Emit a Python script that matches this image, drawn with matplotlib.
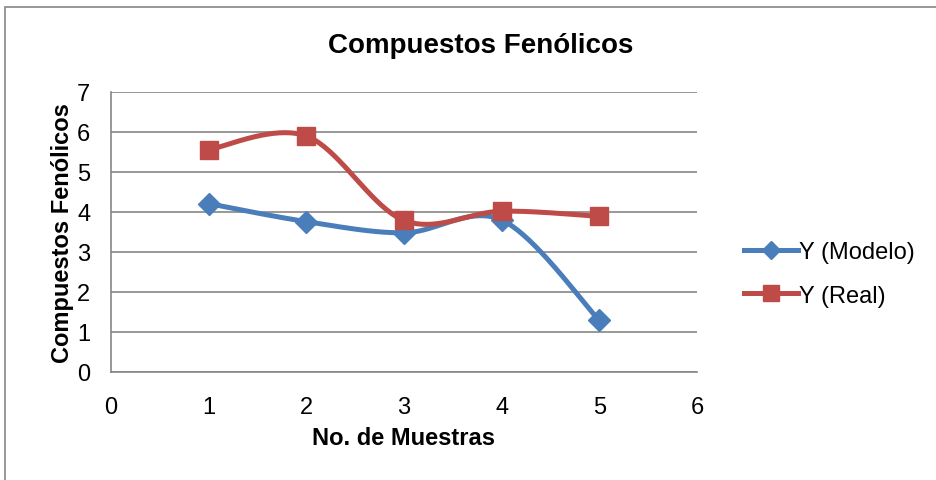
import numpy as np
import matplotlib.pyplot as plt
from matplotlib.patches import Rectangle
from matplotlib.lines import Line2D

plt.rcParams['font.family'] = ['Liberation Sans', 'DejaVu Sans']

muestras = [1, 2, 3, 4, 5]
y_modelo = [4.21, 3.76, 3.48, 3.80, 1.29]
y_real = [5.56, 5.90, 3.79, 4.02, 3.89]


def smooth(xs, ys, n=40):
    # Excel-like smoothed line: Catmull-Rom segments as cubic Beziers
    xs = np.asarray(xs, float)
    ys = np.asarray(ys, float)
    px = np.concatenate([[xs[0]], xs, [xs[-1]]])
    py = np.concatenate([[ys[0]], ys, [ys[-1]]])
    t = np.linspace(0, 1, n)[:, None]
    out = []
    for i in range(1, len(xs)):
        p0 = np.array([px[i], py[i]])
        p3 = np.array([px[i + 1], py[i + 1]])
        p1 = p0 + (p3 - np.array([px[i - 1], py[i - 1]])) / 6
        p2 = p3 - (np.array([px[i + 2], py[i + 2]]) - p0) / 6
        seg = ((1 - t) ** 3) * p0 + 3 * ((1 - t) ** 2) * t * p1 + 3 * (1 - t) * t ** 2 * p2 + t ** 3 * p3
        out.append(seg)
    pts = np.vstack(out)
    return pts[:, 0], pts[:, 1]


fig = plt.figure(figsize=(9.36, 4.81), dpi=100)
fig.patches.append(Rectangle((5 / 936, -0.1), 1.2, 1 - 8 / 481 + 0.1, transform=fig.transFigure,
                             fill=False, edgecolor='#868686', lw=1.2))

ax = fig.add_axes([111 / 936, 1 - 373 / 481, (697 - 111) / 936, (373 - 93) / 481])

blue = '#4A7EBB'
red = '#BE4B48'

sx, sy = smooth(muestras, y_modelo)
ax.plot(sx, sy, color=blue, lw=3.6, solid_capstyle='round', zorder=3)
ax.plot(muestras, y_modelo, ls='none', marker='D', ms=11, color=blue, zorder=4)

sx, sy = smooth(muestras, y_real)
ax.plot(sx, sy, color=red, lw=3.6, solid_capstyle='round', zorder=3)
ax.plot(muestras, y_real, ls='none', marker='s', ms=13, color=red, zorder=4)

ax.set_xlim(0, 6)
ax.set_ylim(0, 7)
ax.set_xticks(range(0, 7))
ax.set_yticks(range(0, 8))
ax.grid(axis='y', color='#868686', lw=1.2)
ax.set_axisbelow(True)
for s in ['top', 'right']:
    ax.spines[s].set_visible(False)
for s in ['left', 'bottom']:
    ax.spines[s].set_color('#868686')
    ax.spines[s].set_linewidth(1.2)
ax.tick_params(length=0, labelsize=17)
ax.tick_params(axis='x', pad=17)
ax.tick_params(axis='y', pad=15)

fig.text(481 / 936, 1 - 46 / 481, 'Compuestos Fenólicos', fontsize=20, fontweight='bold',
         ha='center', va='center')
ax.set_xlabel('No. de Muestras', fontsize=17, fontweight='bold', labelpad=6)
ax.set_ylabel('Compuestos Fenólicos', fontsize=17, fontweight='bold', labelpad=2)

handles = [Line2D([0], [0], color=blue, lw=3.6, marker='D', ms=9),
           Line2D([0], [0], color=red, lw=3.6, marker='s', ms=11)]
fig.legend(handles, ['Y (Modelo)', 'Y (Real)'], loc='center left',
           bbox_to_anchor=(744 / 936, 1 - 275 / 481), frameon=False, fontsize=17,
           handlelength=2.3, handletextpad=0.05, labelspacing=0.9, borderpad=0,
           borderaxespad=0)

fig.savefig('out.png', dpi=100)
